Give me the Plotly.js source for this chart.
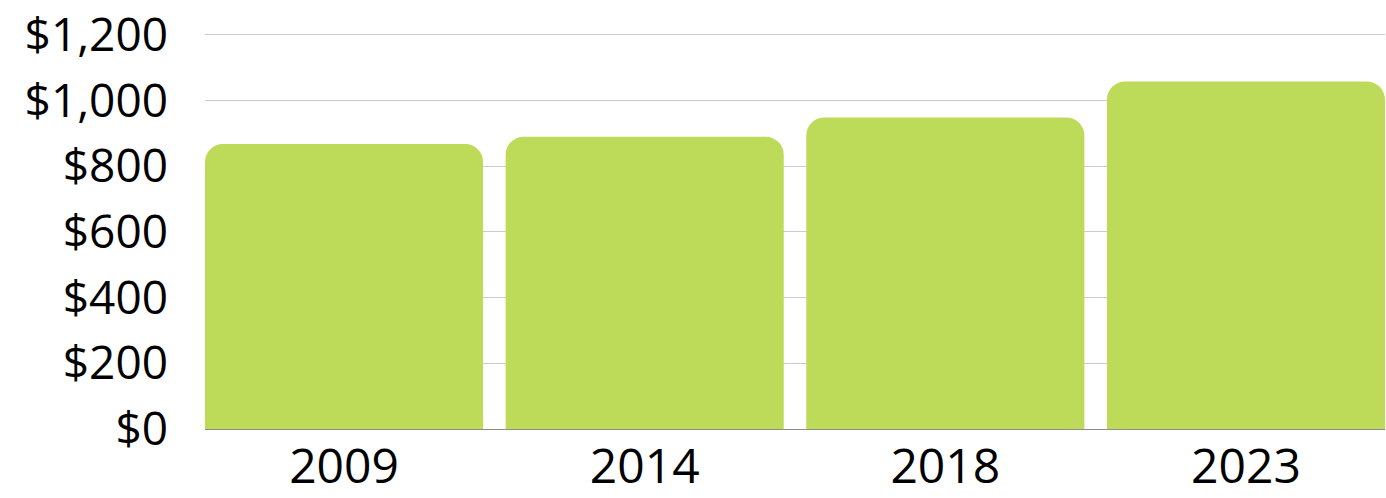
<!DOCTYPE html>
<html>
<head>
<meta charset="utf-8">
<script src="https://cdn.plot.ly/plotly-3.0.1.min.js"></script>
<style>html,body{margin:0;padding:0;background:#fff;}#chart{width:1386px;height:498px;}</style>
</head>
<body>
<div id="chart"></div>
<script>
const years = ['2009', '2014', '2018', '2023'];
const values = [868, 890, 949, 1058];
const yTickVals = [0, 200, 400, 600, 800, 1000, 1200];
const yTickText = ['$0', '$200', '$400', '$600', '$800', '$1,000', '$1,200'];

const gap = 0.075;

const trace = {
  type: 'bar',
  x: years,
  y: values,
  marker: { color: '#BDDB58', cornerradius: 18, line: { width: 0 } },
  hoverinfo: 'none'
};

const layout = {
  width: 1386,
  height: 498,
  margin: { l: 205, r: 1, t: 33, b: 69 },
  paper_bgcolor: '#ffffff',
  plot_bgcolor: '#ffffff',
  showlegend: false,
  bargap: gap,
  font: { family: 'Open Sans, sans-serif', color: '#000000' },
  xaxis: {
    type: 'category',
    range: [-0.5 + gap / 2, years.length - 0.5 - gap / 2],
    showgrid: false,
    showline: true,
    linecolor: '#8c8c8c',
    linewidth: 1,
    ticks: '',
    tickfont: { size: 48, color: '#000000' },
    ticklabelstandoff: -5
  },
  yaxis: {
    range: [0, 1206],
    tickvals: yTickVals,
    ticktext: yTickText,
    showgrid: true,
    gridcolor: '#cccccc',
    gridwidth: 1,
    zeroline: false,
    showline: false,
    ticks: '',
    tickfont: { size: 46, color: '#000000' },
    ticklabelstandoff: 36
  }
};

Plotly.newPlot('chart', [trace], layout, { displayModeBar: false, staticPlot: true });
</script>
</body>
</html>
